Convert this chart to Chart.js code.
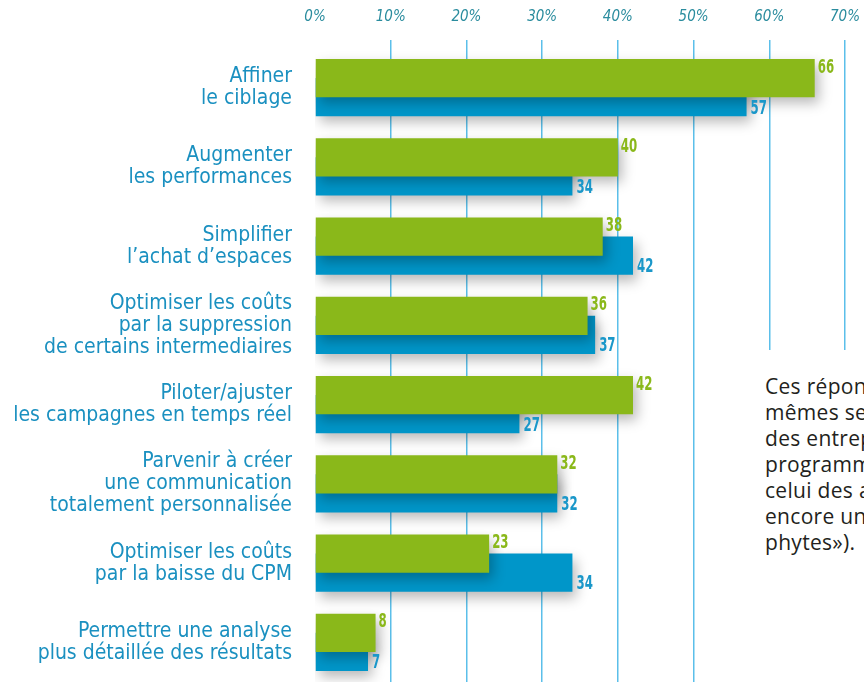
<!DOCTYPE html>
<html lang="fr">
<head>
<meta charset="utf-8">
<script src="https://cdn.jsdelivr.net/npm/chart.js@4.4.1/dist/chart.umd.min.js"></script>
<style>
    html, body { margin: 0; padding: 0; background: #fff; }
    #wrap { position: relative; width: 864px; height: 689px; overflow: hidden; }
    #note {
        position: absolute; left: 740px; top: 350px; width: 124px; height: 339px;
        background: #fff; padding: 23px 0 0 25px; box-sizing: border-box;
        font-family: "Open Sans", "Lato", sans-serif; font-size: 21px; line-height: 26px;
        letter-spacing: 0.3px; color: #231f20; white-space: nowrap; overflow: hidden;
    }
</style>
</head>
<body>
<div id="wrap">
    <canvas id="barChart" width="864" height="689"></canvas>
    <div id="note">Ces réponses sont les<br>mêmes selon le profil<br>des entreprises<br>programmatiques et<br>celui des annonceurs<br>encore un peu «néo-<br>phytes»).</div>
</div>
<script>
const categories = [
    ['Affiner', 'le ciblage'],
    ['Augmenter', 'les performances'],
    ['Simplifier', 'l\u2019achat d\u2019espaces'],
    ['Optimiser les coûts', 'par la suppression', 'de certains intermediaires'],
    ['Piloter/ajuster', 'les campagnes en temps réel'],
    ['Parvenir à créer', 'une communication', 'totalement personnalisée'],
    ['Optimiser les coûts', 'par la baisse du CPM'],
    ['Permettre une analyse', 'plus détaillée des résultats']
];
const greenValues = [66, 40, 38, 36, 42, 32, 23, 8];
const blueValues = [57, 34, 42, 37, 27, 32, 34, 7];
const tickValues = [0, 10, 20, 30, 40, 50, 60, 70];

const GREEN = '#8ab81a';
const BLUE = '#0096c9';
const condensed = '"DejaVu Sans Condensed", "DejaVu Sans", sans-serif';

// soft drop shadow under the bars
const shadowPlugin = {
    id: 'barShadow',
    beforeDatasetsDraw(chart) {
        const ctx = chart.ctx;
        ctx.save();
        ctx.shadowColor = 'rgba(0,0,0,0.28)';
        ctx.shadowBlur = 12;
        ctx.shadowOffsetX = 4;
        ctx.shadowOffsetY = 6;
    },
    afterDatasetsDraw(chart) {
        chart.ctx.restore();
    }
};

// value next to the end of each bar (narrow digits)
const valueLabels = {
    id: 'valueLabels',
    afterDatasetsDraw(chart) {
        const ctx = chart.ctx;
        chart.data.datasets.forEach((ds, i) => {
            const meta = chart.getDatasetMeta(i);
            meta.data.forEach((bar, j) => {
                ctx.save();
                ctx.font = 'bold 19px "DejaVu Sans", sans-serif';
                ctx.textAlign = 'left';
                ctx.fillStyle = ds.labelColor;
                if (i === 0) {
                    ctx.textBaseline = 'top';
                    ctx.translate(bar.x + 3, bar.y - bar.height / 2 - 1);
                } else {
                    ctx.textBaseline = 'bottom';
                    ctx.translate(bar.x + 4, bar.y + bar.height / 2 + 2);
                }
                ctx.scale(0.62, 1);
                ctx.fillText(ds.data[j], 0, 0);
                ctx.restore();
            });
        });
    }
};

new Chart(document.getElementById('barChart').getContext('2d'), {
    type: 'bar',
    data: {
        labels: categories,
        datasets: [
            {
                label: 'Série 1',
                data: greenValues,
                backgroundColor: GREEN,
                labelColor: GREEN,
                categoryPercentage: 0.48,
                barPercentage: 2
            },
            {
                label: 'Série 2',
                data: blueValues,
                backgroundColor: BLUE,
                labelColor: '#1a97c9',
                categoryPercentage: 0.48,
                barPercentage: 2
            }
        ]
    },
    options: {
        indexAxis: 'y',
        responsive: false,
        animation: false,
        layout: { padding: { top: 0, right: 19, bottom: 7, left: 0 } },
        plugins: {
            legend: { display: false },
            tooltip: { enabled: false }
        },
        scales: {
            x: {
                position: 'top',
                min: 0,
                max: 70,
                afterBuildTicks: scale => {
                    scale.ticks = tickValues.map(v => ({ value: v }));
                },
                afterFit: scale => {
                    scale.height = 48;
                    scale.paddingLeft = 0;
                    scale.paddingRight = 0;
                },
                border: { display: false },
                grid: {
                    color: c => (c.tick && c.tick.value === 0) ? 'rgba(0,0,0,0)' : '#5bbfea',
                    lineWidth: 1.5,
                    tickLength: 8
                },
                ticks: {
                    callback: v => v + '%',
                    color: '#2a8c9e',
                    padding: 14,
                    maxRotation: 0,
                    font: { family: condensed, size: 15, style: 'italic' }
                }
            },
            y: {
                afterFit: scale => {
                    scale.width = 315;
                    scale.paddingTop = 0;
                    scale.paddingBottom = 0;
                },
                border: { display: false },
                grid: { display: false, drawTicks: false },
                ticks: {
                    color: '#1a90c0',
                    padding: 23,
                    font: { family: condensed, size: 21, lineHeight: 1.05 }
                }
            }
        }
    },
    plugins: [shadowPlugin, valueLabels]
});
</script>
</body>
</html>
